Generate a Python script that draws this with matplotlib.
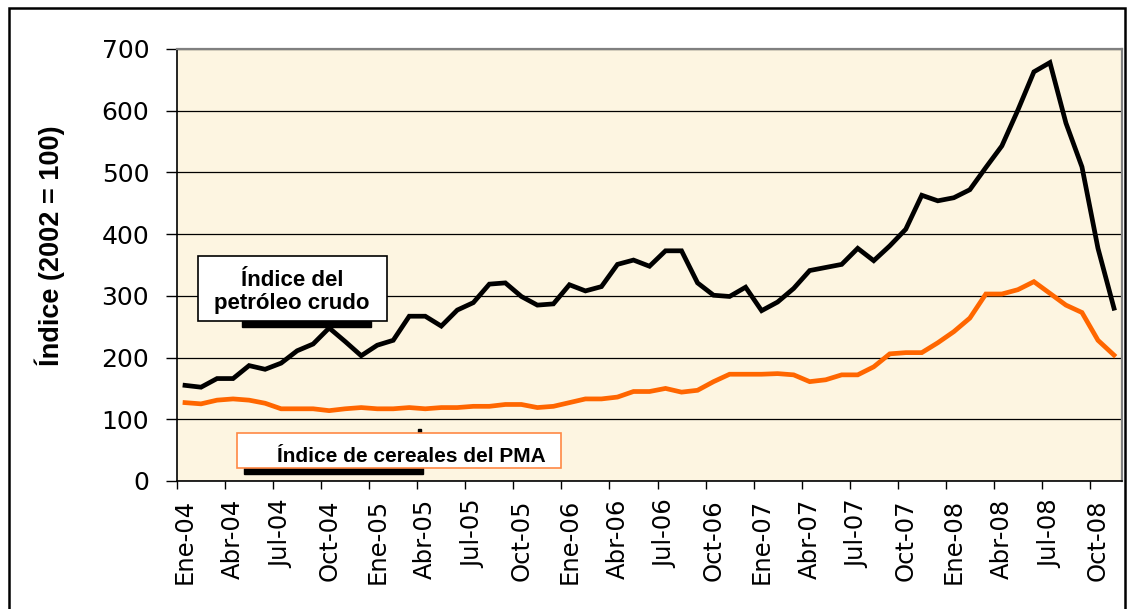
import matplotlib
matplotlib.use('Agg')
import matplotlib.pyplot as plt
from matplotlib.patches import Rectangle

# Índices mensuales, enero 2004 - noviembre 2008 (2002 = 100)
petroleo = [155, 152, 166, 166, 187, 181, 191, 211, 222, 248,
            226, 203, 220, 228, 267, 267, 251, 277, 289, 319,
            321, 299, 285, 287, 318, 308, 315, 351, 358, 348,
            373, 373, 321, 301, 299, 314, 276, 290, 312, 341,
            346, 351, 377, 357, 381, 408, 463, 454, 459, 472,
            508, 543, 601, 663, 678, 580, 509, 377, 280]
cereales = [127, 125, 131, 133, 131, 126, 117, 117, 117, 114,
            117, 119, 117, 117, 119, 117, 119, 119, 121, 121,
            124, 124, 119, 121, 127, 133, 133, 136, 145, 145,
            150, 144, 147, 161, 173, 173, 173, 174, 172, 161,
            164, 172, 172, 185, 206, 208, 208, 224, 242, 264,
            303, 303, 310, 323, 304, 285, 273, 228, 204]
etiquetas = ['Ene-04', 'Abr-04', 'Jul-04', 'Oct-04', 'Ene-05', 'Abr-05', 'Jul-05',
             'Oct-05', 'Ene-06', 'Abr-06', 'Jul-06', 'Oct-06', 'Ene-07', 'Abr-07',
             'Jul-07', 'Oct-07', 'Ene-08', 'Abr-08', 'Jul-08', 'Oct-08']
valores_y = [0, 100, 200, 300, 400, 500, 600, 700]

W, H = 1130, 609


def px(x, y):
    # pixel (desde arriba a la izquierda) -> fraccion de figura
    return x / W, 1 - y / H


fig = plt.figure(figsize=(W / 100, H / 100), dpi=100)
ax = fig.add_axes([177 / W, (H - 481) / H, (1122 - 177) / W, (481 - 49) / H])
ax.set_facecolor('#FDF5E1')

x = list(range(len(petroleo)))
ax.plot(x, petroleo, color='black', lw=3.4, solid_joinstyle='miter', zorder=3)
ax.plot(x, cereales, color='#FF6600', lw=3.4, solid_joinstyle='miter', zorder=3)

ax.set_xlim(-0.5, len(petroleo) - 0.5)
ax.set_ylim(0, 700)
ax.set_yticks(valores_y)
ax.set_yticklabels([str(v) for v in valores_y], fontsize=18, family='DejaVu Sans')
ax.grid(axis='y', color='black', lw=0.9, zorder=1)

ax.set_xticks(range(0, len(petroleo), 3))
ax.set_xticklabels(etiquetas, rotation=90, fontsize=17.5, family='DejaVu Sans')
ax.set_xticks([i - 0.5 for i in range(0, len(petroleo), 3)], minor=True)
ax.tick_params(axis='x', which='major', length=0, pad=13)
ax.tick_params(axis='x', which='minor', length=6, width=1, color='black')
ax.tick_params(axis='y', length=8, width=1, color='black', pad=12)

for s in ['top', 'right']:
    ax.spines[s].set_color('#808080')
    ax.spines[s].set_linewidth(1.6)
for s in ['left', 'bottom']:
    ax.spines[s].set_color('black')
    ax.spines[s].set_linewidth(1.2)

ax.set_ylabel('Índice (2002 = 100)', fontsize=19.5, fontweight='bold',
              family='Liberation Sans')
ax.yaxis.set_label_coords(-0.119, 0.544)

# Recuadro del petróleo
x0, y0 = px(198, 321)
x1, y1 = px(387, 256)
fig.add_artist(Rectangle(px(242, 327), (371 - 242) / W, 6 / H, color='black', zorder=4))
fig.add_artist(Rectangle((x0, y0), x1 - x0, y1 - y0, facecolor='white',
                         edgecolor='black', lw=1.2, zorder=5))
fig.text(*px(292, 292), 'Índice del\npetróleo crudo', ha='center', va='center',
         fontsize=16, fontweight='bold', family='Liberation Sans',
         linespacing=1.15, zorder=6)

# Recuadro de cereales
x0, y0 = px(237, 468)
x1, y1 = px(561, 433)
fig.add_artist(Rectangle(px(244, 474), (423 - 244) / W, 6 / H, color='black', zorder=4))
fig.add_artist(Rectangle(px(418, 434), 3 / W, 5 / H, color='black', zorder=4))
fig.add_artist(Rectangle((x0, y0), x1 - x0, y1 - y0, facecolor='white',
                         edgecolor='#FF8844', lw=1.2, zorder=5))
fig.text(*px(411, 457), 'Índice de cereales del PMA', ha='center', va='center',
         fontsize=15, fontweight='bold', family='Liberation Sans', zorder=6)

# Marco exterior
fx0, fy0 = px(9, 625)
fx1, fy1 = px(1125, 8)
fig.add_artist(Rectangle((fx0, fy0), fx1 - fx0, fy1 - fy0, fill=False,
                         edgecolor='black', lw=1.8, clip_on=False, zorder=10))

fig.savefig('out.png', dpi=100)
